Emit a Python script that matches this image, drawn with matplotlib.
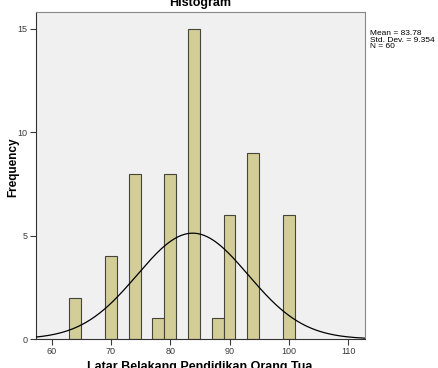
import numpy as np
import matplotlib.pyplot as plt

plt.rcParams['font.family'] = ['Liberation Sans', 'DejaVu Sans']

# histogram bins (centres, width 2) and counts
bin_centers = [64, 70, 74, 78, 80, 84, 88, 90, 94, 100]
counts = [2, 4, 8, 1, 8, 15, 1, 6, 9, 6]
bin_width = 2

mean = 83.78
std_dev = 9.354
n = 60

x_ticks = [60, 70, 80, 90, 100, 110]
y_ticks = [0, 5, 10, 15]

fig = plt.figure(figsize=(4.39, 3.68), dpi=100)
ax = fig.add_axes([0.0813, 0.0788, 0.7495, 0.8878])
ax.set_facecolor('#f0f0f0')

ax.bar(bin_centers, counts, width=bin_width, color='#d3ce97',
       edgecolor='#45453a', linewidth=0.8, zorder=2)

# normal curve scaled to the histogram
xs = np.linspace(57.3, 112.8, 300)
ys = n * bin_width / (std_dev * np.sqrt(2 * np.pi)) * \
    np.exp(-0.5 * ((xs - mean) / std_dev) ** 2)
ax.plot(xs, ys, color='black', linewidth=0.9, zorder=3)

ax.set_xlim(57.3, 112.8)
ax.set_ylim(0, 15.8)
ax.set_xticks(x_ticks)
ax.set_yticks(y_ticks)
ax.tick_params(labelsize=6.5, colors='#3a3a3a', length=4, width=0.8, pad=2)

for side in ['left', 'bottom']:
    ax.spines[side].set_color('#333333')
for side in ['top', 'right']:
    ax.spines[side].set_color('#888888')

fig.text(0.4556, 1 - 6 / 368, 'Histogram', ha='center', va='baseline',
         fontsize=9, fontweight='bold')
fig.text(0.4556, 1 - 370 / 368, 'Latar Belakang Pendidikan Orang Tua',
         ha='center', va='baseline', fontsize=9, fontweight='bold')
fig.text(13 / 439, 1 - 167 / 368, 'Frequency', ha='center', va='center',
         rotation=90, fontsize=8.5, fontweight='bold')

fig.text(370 / 439, 1 - 30 / 368,
         'Mean = 83.78\nStd. Dev. = 9.354\nN = 60',
         ha='left', va='top', fontsize=6, linespacing=0.95)

fig.savefig('out.png', dpi=100)
